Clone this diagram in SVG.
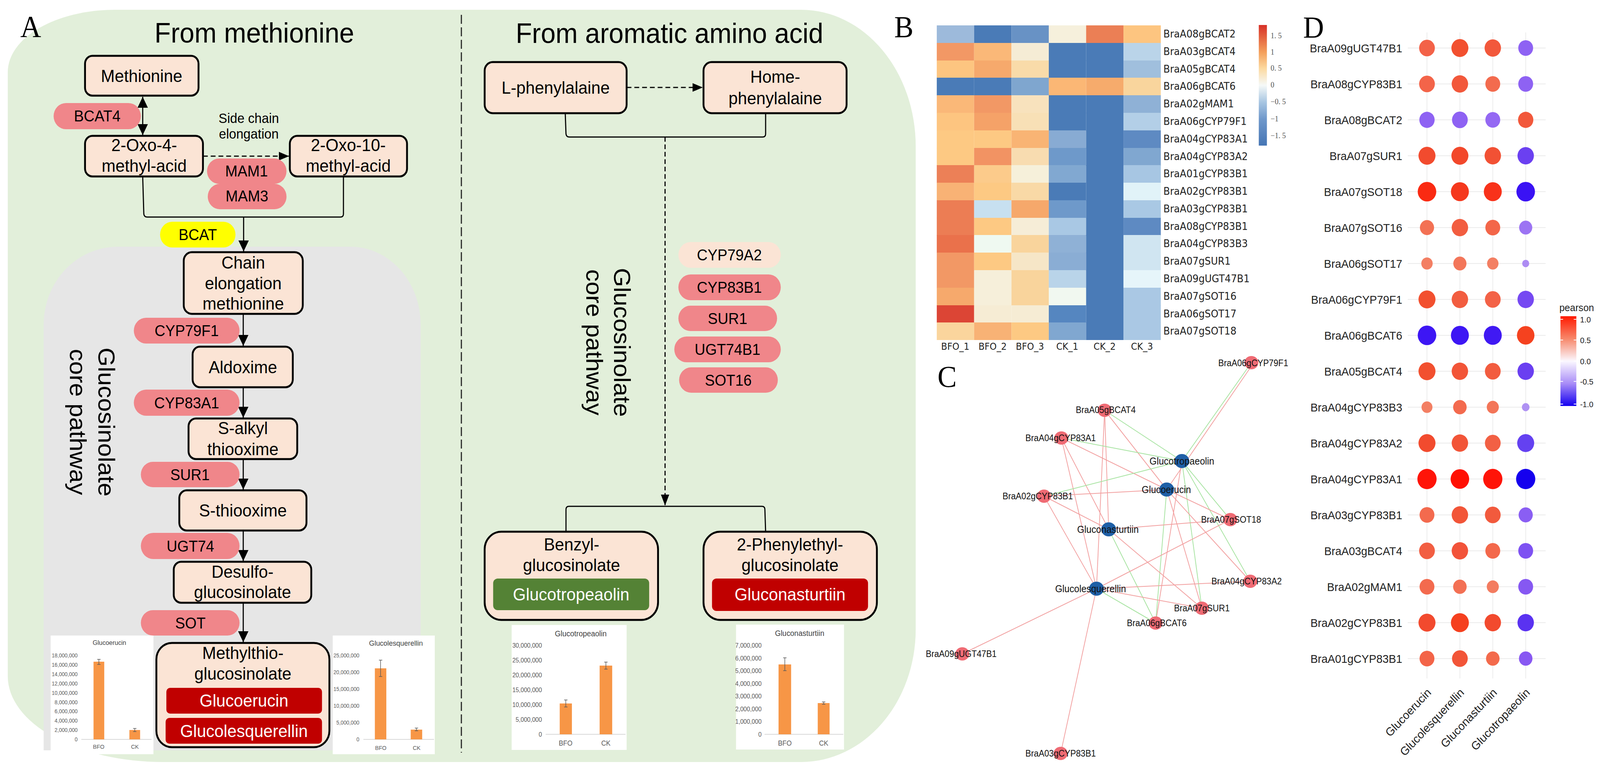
<svg xmlns="http://www.w3.org/2000/svg" width="4328" height="1975" viewBox="0 0 4328 1975" preserveAspectRatio="none" style="width:100vw;height:100vh;display:block">
<defs>
<style>
text{font-family:"Liberation Sans",Arial,sans-serif;fill:#000}
.serif{font-family:"Liberation Serif","Times New Roman",serif;font-size:78px;text-anchor:middle}
.box{fill:#FBE4D5;stroke:#000;stroke-width:5}
.pill{fill:#F0868A}
.t45{font-size:45px;text-anchor:middle}
.t40{font-size:40px;text-anchor:middle}
.w45{font-size:45px;text-anchor:middle;fill:#fff}
.ttl{font-size:72px;text-anchor:middle}
.rot{font-size:63px;text-anchor:middle}
.ln{fill:none;stroke:#000;stroke-width:3}
.dash{fill:none;stroke:#000;stroke-width:3;stroke-dasharray:13 8}
.bar{fill:#F79646}
.ax{stroke:#D9D9D9;stroke-width:2}
.eb{stroke:#595959;stroke-width:1.5;fill:none}
.yl{font-size:14px;text-anchor:end;fill:#595959}
.yl2{font-size:16px;text-anchor:end;fill:#595959}
.xl{font-size:15px;text-anchor:middle;fill:#595959}
.xl2{font-size:18px;text-anchor:middle;fill:#595959}
.ct{font-size:17px;text-anchor:middle;fill:#404040}
.ct2{font-size:20px;text-anchor:middle;fill:#404040}
.hl{font-family:"DejaVu Sans",sans-serif;font-size:26px;fill:#222}
.lg{font-family:"Liberation Serif",serif;font-size:20px;fill:#555}
.er{stroke:#F2A0A0;stroke-width:2}
.eg{stroke:#A6E3A0;stroke-width:2}
.nr{fill:#EF6B74}
.nb{fill:#1F5FA6}
.nl{font-size:23px;text-anchor:middle;fill:#111}
.nlb{font-size:25px;text-anchor:middle;fill:#111}
.dl{font-size:30px;text-anchor:end;fill:#222}
.grid{stroke:#EBEBEB;stroke-width:2}
.pl{font-size:21px;fill:#222}
</style>
<marker id="ah" viewBox="0 0 10 10" refX="10" refY="5" markerWidth="28" markerHeight="28" markerUnits="userSpaceOnUse" orient="auto-start-reverse"><path d="M0,0 L10,5 L0,10 z" fill="#000"/></marker>
<marker id="ahs" viewBox="0 0 10 8" refX="10" refY="4" markerWidth="28" markerHeight="24" markerUnits="userSpaceOnUse" orient="auto"><path d="M0,0 L10,4 L0,8 z" fill="#000"/></marker>
<linearGradient id="hmg" x1="0" y1="0" x2="0" y2="1">
<stop offset="0" stop-color="#D73027"/><stop offset="0.227" stop-color="#F4A05C"/><stop offset="0.36" stop-color="#FCD9A0"/><stop offset="0.5" stop-color="#F5F9F8"/><stop offset="0.64" stop-color="#A8C6E2"/><stop offset="0.78" stop-color="#6F98CB"/><stop offset="1" stop-color="#4575B4"/>
</linearGradient>
<linearGradient id="pg" x1="0" y1="0" x2="0" y2="1">
<stop offset="0" stop-color="#FF1A00"/><stop offset="0.25" stop-color="#F7876A"/><stop offset="0.5" stop-color="#FBF8FF"/><stop offset="0.75" stop-color="#A88CF7"/><stop offset="1" stop-color="#1400F0"/>
</linearGradient>
</defs>
<rect width="4328" height="1975" fill="#fff"/>

<!-- Panel A background -->
<path d="M21,185 A290,160 0 0 1 311,25 L2167,25 A310,350 0 0 1 2477,375 L2477,1612 A310,340 0 0 1 2167,1952 L441,1952 A420,220 0 0 1 21,1732 Z" fill="#E2EFDA"/>
<path d="M118,832 A200,200 0 0 1 318,632 L948,632 A190,200 0 0 1 1138,832 L1138,1922 L118,1922 Z" fill="#E6E6E6"/>
<line x1="1248" y1="38" x2="1248" y2="1928" stroke="#222" stroke-width="3" stroke-dasharray="23 9"/>

<text class="serif" x="83" y="94">A</text>
<text class="ttl" x="688" y="109">From methionine</text>
<text class="ttl" x="1811" y="110">From aromatic amino acid</text>

<text class="rot" transform="translate(266,1081) rotate(90)">Glucosinolate</text>
<text class="rot" transform="translate(189,1081) rotate(90)">core pathway</text>
<text class="rot" transform="translate(1661,877) rotate(90)">Glucosinolate</text>
<text class="rot" transform="translate(1586,877) rotate(90)">core pathway</text>

<text x="673" y="315" style="font-size:35px;text-anchor:middle">Side chain</text>
<text x="673" y="355" style="font-size:35px;text-anchor:middle">elongation</text>

<!-- connectors -->
<g id="connectors">
<line class="ln" x1="386" y1="248" x2="386" y2="346" marker-start="url(#ah)" marker-end="url(#ah)"/>
<line class="dash" x1="549" y1="400" x2="782" y2="400" marker-end="url(#ahs)"/>
<path class="ln" d="M386,452 L389,548 Q390,556 398,556 L921,556 Q929,556 929,548 L929,452"/>
<line class="ln" x1="659" y1="556" x2="659" y2="644" marker-end="url(#ah)"/>
<line class="ln" x1="658" y1="804" x2="658" y2="886" marker-end="url(#ah)"/>
<line class="ln" x1="658" y1="992" x2="658" y2="1070" marker-end="url(#ah)"/>
<line class="ln" x1="658" y1="1176" x2="658" y2="1254" marker-end="url(#ah)"/>
<line class="ln" x1="658" y1="1359" x2="658" y2="1437" marker-end="url(#ah)"/>
<line class="ln" x1="658" y1="1544" x2="658" y2="1645" marker-end="url(#ah)"/>
<line class="dash" x1="1695" y1="224" x2="1901" y2="224" marker-end="url(#ahs)"/>
<path class="ln" d="M1529,290 L1531,343 Q1532,351 1540,351 L2063,351 Q2071,351 2071,343 L2071,290"/>
<line x1="1799" y1="351" x2="1799" y2="1295" stroke="#000" stroke-width="3" stroke-dasharray="12 7" marker-end="url(#ahs)"/>
<path class="ln" d="M1531,1362 L1531,1305 Q1531,1297 1539,1297 L2061,1297 Q2069,1297 2069,1305 L2071,1362"/>
</g>

<!-- Left pathway nodes -->
<g id="n-methionine"><rect class="box" x="230" y="143" width="307" height="102" rx="20"/><text class="t45" x="383" y="210">Methionine</text></g>
<g id="n-oxo4"><rect class="box" x="230" y="348" width="319" height="104" rx="20"/><text class="t45" x="390" y="387">2-Oxo-4-</text><text class="t45" x="390" y="440">methyl-acid</text></g>
<g id="n-oxo10"><rect class="box" x="784" y="348" width="317" height="104" rx="20"/><text class="t45" x="942" y="387">2-Oxo-10-</text><text class="t45" x="942" y="440">methyl-acid</text></g>
<g id="e-bcat4"><rect class="pill" x="145" y="264" width="236" height="67" rx="33.5"/><text class="t40" x="263" y="311">BCAT4</text></g>
<g id="e-mam1"><rect class="pill" x="560" y="406" width="215" height="65" rx="32.5"/><text class="t40" x="667" y="452">MAM1</text></g>
<g id="e-mam3"><rect class="pill" x="562" y="471" width="213" height="65" rx="32.5"/><text class="t40" x="668" y="516">MAM3</text></g>
<g id="e-bcat"><rect x="433" y="568" width="204" height="66" rx="33" fill="#FFFF00"/><text class="t40" x="535" y="615">BCAT</text></g>
<g id="n-chain"><rect class="box" x="497" y="646" width="322" height="158" rx="22"/><text class="t45" x="658" y="688">Chain</text><text class="t45" x="658" y="741">elongation</text><text class="t45" x="658" y="793">methionine</text></g>
<g id="e-cyp79f1"><rect class="pill" x="362" y="814" width="286" height="66" rx="33"/><text class="t40" x="505" y="861">CYP79F1</text></g>
<g id="n-aldoxime"><rect class="box" x="521" y="888" width="271" height="104" rx="20"/><text class="t45" x="657" y="956">Aldoxime</text></g>
<g id="e-cyp83a1"><rect class="pill" x="362" y="998" width="286" height="67" rx="33.5"/><text class="t40" x="505" y="1046">CYP83A1</text></g>
<g id="n-salkyl"><rect class="box" x="510" y="1072" width="294" height="104" rx="20"/><text class="t45" x="657" y="1112">S-alkyl</text><text class="t45" x="657" y="1166">thiooxime</text></g>
<g id="e-sur1"><rect class="pill" x="381" y="1183" width="267" height="65" rx="32.5"/><text class="t40" x="514" y="1230">SUR1</text></g>
<g id="n-sthio"><rect class="box" x="485" y="1256" width="344" height="103" rx="20"/><text class="t45" x="657" y="1323">S-thiooxime</text></g>
<g id="e-ugt74"><rect class="pill" x="381" y="1365" width="267" height="67" rx="33.5"/><text class="t40" x="515" y="1413">UGT74</text></g>
<g id="n-desulfo"><rect class="box" x="470" y="1439" width="372" height="105" rx="20"/><text class="t45" x="656" y="1480">Desulfo-</text><text class="t45" x="656" y="1532">glucosinolate</text></g>
<g id="e-sot"><rect class="pill" x="381" y="1563" width="267" height="65" rx="32.5"/><text class="t40" x="515" y="1610">SOT</text></g>
<g id="n-methylthio"><rect class="box" x="423" y="1647" width="468" height="267" rx="42"/><text class="t45" x="657" y="1688">Methylthio-</text><text class="t45" x="657" y="1741">glucosinolate</text>
<rect x="450" y="1762" width="421" height="66" rx="10" fill="#C00000"/><text class="w45" x="660" y="1810">Glucoerucin</text>
<rect x="448" y="1839" width="423" height="66" rx="10" fill="#C00000"/><text class="w45" x="660" y="1888">Glucolesquerellin</text></g>

<!-- Right pathway nodes -->
<g id="n-lphe"><rect class="box" x="1311" y="159" width="384" height="131" rx="22"/><text class="t45" x="1503" y="240">L-phenylalaine</text></g>
<g id="n-homephe"><rect class="box" x="1903" y="159" width="387" height="131" rx="22"/><text class="t45" x="2097" y="212">Home-</text><text class="t45" x="2097" y="267">phenylalaine</text></g>
<g id="e-cyp79a2"><rect x="1835" y="620" width="277" height="66" rx="33" fill="#FBE4D5"/><text class="t40" x="1973" y="667">CYP79A2</text></g>
<g id="e-cyp83b1"><rect class="pill" x="1835" y="703" width="277" height="66" rx="33"/><text class="t40" x="1973" y="750">CYP83B1</text></g>
<g id="e-sur1r"><rect class="pill" x="1835" y="783" width="267" height="65" rx="32.5"/><text class="t40" x="1968" y="830">SUR1</text></g>
<g id="e-ugt74b1"><rect class="pill" x="1824" y="862" width="288" height="66" rx="33"/><text class="t40" x="1968" y="909">UGT74B1</text></g>
<g id="e-sot16"><rect class="pill" x="1837" y="941" width="267" height="65" rx="32.5"/><text class="t40" x="1970" y="988">SOT16</text></g>
<g id="n-benzyl"><rect class="box" x="1311" y="1362" width="469" height="226" rx="45"/><text class="t45" x="1546" y="1410">Benzyl-</text><text class="t45" x="1546" y="1463">glucosinolate</text>
<rect x="1334" y="1482" width="422" height="81" rx="12" fill="#548235"/><text class="w45" x="1545" y="1538">Glucotropeaolin</text></g>
<g id="n-phenylethyl"><rect class="box" x="1903" y="1362" width="469" height="226" rx="45"/><text class="t45" x="2137" y="1410">2-Phenylethyl-</text><text class="t45" x="2137" y="1463">glucosinolate</text>
<rect x="1926" y="1482" width="422" height="83" rx="12" fill="#C00000"/><text class="w45" x="2137" y="1538">Gluconasturtiin</text></g>

<!-- bar charts -->
<g id="chart-glucoerucin">
<rect x="137" y="1628" width="278" height="304" fill="#fff"/>
<text class="ct" x="296" y="1652">Glucoerucin</text>
<text class="yl" x="210" y="1684">18,000,000</text><text class="yl" x="210" y="1708">16,000,000</text><text class="yl" x="210" y="1732">14,000,000</text><text class="yl" x="210" y="1756">12,000,000</text><text class="yl" x="210" y="1780">10,000,000</text><text class="yl" x="210" y="1804">8,000,000</text><text class="yl" x="210" y="1827">6,000,000</text><text class="yl" x="210" y="1851">4,000,000</text><text class="yl" x="210" y="1875">2,000,000</text><text class="yl" x="210" y="1899">0</text>
<line class="ax" x1="220" y1="1894" x2="410" y2="1894"/>
<rect class="bar" x="253" y="1695" width="29" height="199"/><rect class="bar" x="350" y="1870" width="29" height="24"/>
<path class="eb" d="M267.5,1689V1702M263,1689H272M263,1702H272M364.5,1866V1874M360,1866H369M360,1874H369"/>
<text class="xl" x="267" y="1918">BFO</text><text class="xl" x="365" y="1918">CK</text>
</g>
<g id="chart-glucolesquerellin">
<rect x="900" y="1628" width="276" height="304" fill="#fff"/>
<text class="ct" x="1071" y="1654" style="font-size:19px">Glucolesquerellin</text>
<text class="yl" x="972" y="1684">25,000,000</text><text class="yl" x="972" y="1727">20,000,000</text><text class="yl" x="972" y="1770">15,000,000</text><text class="yl" x="972" y="1813">10,000,000</text><text class="yl" x="972" y="1856">5,000,000</text><text class="yl" x="972" y="1899">0</text>
<line class="ax" x1="983" y1="1894" x2="1174" y2="1894"/>
<rect class="bar" x="1014" y="1712" width="31" height="182"/><rect class="bar" x="1111" y="1869" width="31" height="25"/>
<path class="eb" d="M1029.5,1691V1733M1025,1691H1034M1025,1733H1034M1126.5,1865V1872M1122,1865H1131M1122,1872H1131"/>
<text class="xl" x="1030" y="1921">BFO</text><text class="xl" x="1127" y="1921">CK</text>
</g>
<g id="chart-glucotropeaolin">
<rect x="1384" y="1601" width="311" height="320" fill="#fff"/>
<text class="ct2" x="1571" y="1630">Glucotropeaolin</text>
<text class="yl2" x="1466" y="1659">30,000,000</text><text class="yl2" x="1466" y="1697">25,000,000</text><text class="yl2" x="1466" y="1735">20,000,000</text><text class="yl2" x="1466" y="1773">15,000,000</text><text class="yl2" x="1466" y="1811">10,000,000</text><text class="yl2" x="1466" y="1849">5,000,000</text><text class="yl2" x="1466" y="1887">0</text>
<line class="ax" x1="1476" y1="1881" x2="1692" y2="1881"/>
<rect class="bar" x="1514" y="1802" width="33" height="79"/><rect class="bar" x="1622" y="1705" width="34" height="176"/>
<path class="eb" d="M1530.5,1793V1811M1526,1793H1535M1526,1811H1535M1639,1696V1714M1634.5,1696H1643.5M1634.5,1714H1643.5"/>
<text class="xl2" x="1530" y="1910">BFO</text><text class="xl2" x="1639" y="1910">CK</text>
</g>
<g id="chart-gluconasturtiin">
<rect x="1991" y="1600" width="292" height="320" fill="#fff"/>
<text class="ct2" x="2163" y="1629">Gluconasturtiin</text>
<text class="yl2" x="2060" y="1659">7,000,000</text><text class="yl2" x="2060" y="1692">6,000,000</text><text class="yl2" x="2060" y="1724">5,000,000</text><text class="yl2" x="2060" y="1757">4,000,000</text><text class="yl2" x="2060" y="1789">3,000,000</text><text class="yl2" x="2060" y="1822">2,000,000</text><text class="yl2" x="2060" y="1854">1,000,000</text><text class="yl2" x="2060" y="1887">0</text>
<line class="ax" x1="2068" y1="1881" x2="2281" y2="1881"/>
<rect class="bar" x="2106" y="1702" width="34" height="179"/><rect class="bar" x="2212" y="1801" width="32" height="80"/>
<path class="eb" d="M2123,1685V1718M2118.5,1685H2127.5M2118.5,1718H2127.5M2228,1798V1804M2223.5,1798H2232.5M2223.5,1804H2232.5"/>
<text class="xl2" x="2123" y="1910">BFO</text><text class="xl2" x="2228" y="1910">CK</text>
</g>

<!-- Panel B heatmap -->
<text class="serif" x="2445" y="95">B</text>
<g id="heatmap">
<rect x="2534" y="65" width="101" height="46" fill="#9DBADB"/><rect x="2635" y="65" width="101" height="46" fill="#4A7BB7"/><rect x="2736" y="65" width="101" height="46" fill="#6892C5"/><rect x="2837" y="65" width="101" height="46" fill="#F6F0DC"/><rect x="2938" y="65" width="101" height="46" fill="#EB7F55"/><rect x="3039" y="65" width="101" height="46" fill="#FDC580"/>
<rect x="2534" y="110" width="101" height="46" fill="#F29865"/><rect x="2635" y="110" width="101" height="46" fill="#FAB878"/><rect x="2736" y="110" width="101" height="46" fill="#F5ECD5"/><rect x="2837" y="110" width="101" height="46" fill="#4A7BB7"/><rect x="2938" y="110" width="101" height="46" fill="#4A7BB7"/><rect x="3039" y="110" width="101" height="46" fill="#BAD4E9"/>
<rect x="2534" y="155" width="101" height="46" fill="#FDC580"/><rect x="2635" y="155" width="101" height="46" fill="#F6A96C"/><rect x="2736" y="155" width="101" height="46" fill="#F9DBA9"/><rect x="2837" y="155" width="101" height="46" fill="#4A7BB7"/><rect x="2938" y="155" width="101" height="46" fill="#4A7BB7"/><rect x="3039" y="155" width="101" height="46" fill="#A0BFDD"/>
<rect x="2534" y="199" width="101" height="46" fill="#4A7BB7"/><rect x="2635" y="199" width="101" height="46" fill="#4A7BB7"/><rect x="2736" y="199" width="101" height="46" fill="#7FA6CF"/><rect x="2837" y="199" width="101" height="46" fill="#FBB775"/><rect x="2938" y="199" width="101" height="46" fill="#F6AB6C"/><rect x="3039" y="199" width="101" height="46" fill="#F9D59D"/>
<rect x="2534" y="244" width="101" height="46" fill="#FAB878"/><rect x="2635" y="244" width="101" height="46" fill="#F29865"/><rect x="2736" y="244" width="101" height="46" fill="#F8E2BD"/><rect x="2837" y="244" width="101" height="46" fill="#4A7BB7"/><rect x="2938" y="244" width="101" height="46" fill="#4A7BB7"/><rect x="3039" y="244" width="101" height="46" fill="#8FB1D6"/>
<rect x="2534" y="289" width="101" height="46" fill="#FDC580"/><rect x="2635" y="289" width="101" height="46" fill="#F5A268"/><rect x="2736" y="289" width="101" height="46" fill="#F8E0B6"/><rect x="2837" y="289" width="101" height="46" fill="#4A7BB7"/><rect x="2938" y="289" width="101" height="46" fill="#4A7BB7"/><rect x="3039" y="289" width="101" height="46" fill="#B3CFE7"/>
<rect x="2534" y="334" width="101" height="46" fill="#FDC983"/><rect x="2635" y="334" width="101" height="46" fill="#FDC983"/><rect x="2736" y="334" width="101" height="46" fill="#F9B474"/><rect x="2837" y="334" width="101" height="46" fill="#88ABD3"/><rect x="2938" y="334" width="101" height="46" fill="#4A7BB7"/><rect x="3039" y="334" width="101" height="46" fill="#5E8AC2"/>
<rect x="2534" y="379" width="101" height="46" fill="#FDC983"/><rect x="2635" y="379" width="101" height="46" fill="#F29363"/><rect x="2736" y="379" width="101" height="46" fill="#F8DCB0"/><rect x="2837" y="379" width="101" height="46" fill="#6E99CA"/><rect x="2938" y="379" width="101" height="46" fill="#4A7BB7"/><rect x="3039" y="379" width="101" height="46" fill="#80A7D0"/>
<rect x="2534" y="423" width="101" height="46" fill="#EC8057"/><rect x="2635" y="423" width="101" height="46" fill="#FCCB8B"/><rect x="2736" y="423" width="101" height="46" fill="#F6F0DA"/><rect x="2837" y="423" width="101" height="46" fill="#81A8D1"/><rect x="2938" y="423" width="101" height="46" fill="#4A7BB7"/><rect x="3039" y="423" width="101" height="46" fill="#A7C6E3"/>
<rect x="2534" y="468" width="101" height="46" fill="#F8B275"/><rect x="2635" y="468" width="101" height="46" fill="#FDC983"/><rect x="2736" y="468" width="101" height="46" fill="#F9D9A6"/><rect x="2837" y="468" width="101" height="46" fill="#4A7BB7"/><rect x="2938" y="468" width="101" height="46" fill="#4A7BB7"/><rect x="3039" y="468" width="101" height="46" fill="#E1F3F8"/>
<rect x="2534" y="513" width="101" height="46" fill="#EC7D54"/><rect x="2635" y="513" width="101" height="46" fill="#C7E0F0"/><rect x="2736" y="513" width="101" height="46" fill="#F6A86B"/><rect x="2837" y="513" width="101" height="46" fill="#6E99CA"/><rect x="2938" y="513" width="101" height="46" fill="#4A7BB7"/><rect x="3039" y="513" width="101" height="46" fill="#A9C8E4"/>
<rect x="2534" y="558" width="101" height="46" fill="#EC7D54"/><rect x="2635" y="558" width="101" height="46" fill="#FDC983"/><rect x="2736" y="558" width="101" height="46" fill="#F6EDD7"/><rect x="2837" y="558" width="101" height="46" fill="#A9C8E4"/><rect x="2938" y="558" width="101" height="46" fill="#4A7BB7"/><rect x="3039" y="558" width="101" height="46" fill="#5E8AC2"/>
<rect x="2534" y="602" width="101" height="46" fill="#EA714B"/><rect x="2635" y="602" width="101" height="46" fill="#EFF9F1"/><rect x="2736" y="602" width="101" height="46" fill="#F9D49C"/><rect x="2837" y="602" width="101" height="46" fill="#8FB1D6"/><rect x="2938" y="602" width="101" height="46" fill="#4A7BB7"/><rect x="3039" y="602" width="101" height="46" fill="#D0E5F1"/>
<rect x="2534" y="647" width="101" height="46" fill="#F29865"/><rect x="2635" y="647" width="101" height="46" fill="#FDC983"/><rect x="2736" y="647" width="101" height="46" fill="#F6E6C7"/><rect x="2837" y="647" width="101" height="46" fill="#8AADD4"/><rect x="2938" y="647" width="101" height="46" fill="#4A7BB7"/><rect x="3039" y="647" width="101" height="46" fill="#D0E5F1"/>
<rect x="2534" y="692" width="101" height="46" fill="#F29865"/><rect x="2635" y="692" width="101" height="46" fill="#F6EFDA"/><rect x="2736" y="692" width="101" height="46" fill="#F9D49C"/><rect x="2837" y="692" width="101" height="46" fill="#B9D4E9"/><rect x="2938" y="692" width="101" height="46" fill="#4A7BB7"/><rect x="3039" y="692" width="101" height="46" fill="#E6F5FA"/>
<rect x="2534" y="737" width="101" height="46" fill="#F6A96C"/><rect x="2635" y="737" width="101" height="46" fill="#F6EFDA"/><rect x="2736" y="737" width="101" height="46" fill="#F9D49C"/><rect x="2837" y="737" width="101" height="46" fill="#F1F8F0"/><rect x="2938" y="737" width="101" height="46" fill="#4A7BB7"/><rect x="3039" y="737" width="101" height="46" fill="#AAC8E4"/>
<rect x="2534" y="782" width="101" height="45" fill="#DC4535"/><rect x="2635" y="782" width="101" height="45" fill="#F6ECD4"/><rect x="2736" y="782" width="101" height="45" fill="#F6ECD4"/><rect x="2837" y="782" width="101" height="45" fill="#5586C0"/><rect x="2938" y="782" width="101" height="45" fill="#4A7BB7"/><rect x="3039" y="782" width="101" height="45" fill="#AAC8E4"/>
<rect x="2534" y="826" width="101" height="45" fill="#FAD59D"/><rect x="2635" y="826" width="101" height="45" fill="#F8B275"/><rect x="2736" y="826" width="101" height="45" fill="#FDC983"/><rect x="2837" y="826" width="101" height="45" fill="#80A7D0"/><rect x="2938" y="826" width="101" height="45" fill="#4A7BB7"/><rect x="3039" y="826" width="101" height="45" fill="#AAC8E4"/>
</g>
<g id="heatmap-labels">
<text class="hl" x="3147" y="96">BraA08gBCAT2</text><text class="hl" x="3147" y="141">BraA03gBCAT4</text><text class="hl" x="3147" y="186">BraA05gBCAT4</text><text class="hl" x="3147" y="230">BraA06gBCAT6</text><text class="hl" x="3147" y="275">BraA02gMAM1</text><text class="hl" x="3147" y="320">BraA06gCYP79F1</text><text class="hl" x="3147" y="365">BraA04gCYP83A1</text><text class="hl" x="3147" y="410">BraA04gCYP83A2</text><text class="hl" x="3147" y="454">BraA01gCYP83B1</text><text class="hl" x="3147" y="499">BraA02gCYP83B1</text><text class="hl" x="3147" y="544">BraA03gCYP83B1</text><text class="hl" x="3147" y="589">BraA08gCYP83B1</text><text class="hl" x="3147" y="633">BraA04gCYP83B3</text><text class="hl" x="3147" y="678">BraA07gSUR1</text><text class="hl" x="3147" y="723">BraA09gUGT47B1</text><text class="hl" x="3147" y="768">BraA07gSOT16</text><text class="hl" x="3147" y="813">BraA06gSOT17</text><text class="hl" x="3147" y="857">BraA07gSOT18</text>
<text class="hl" x="2584" y="896" style="font-size:24px;text-anchor:middle">BFO_1</text><text class="hl" x="2685" y="896" style="font-size:24px;text-anchor:middle">BFO_2</text><text class="hl" x="2786" y="896" style="font-size:24px;text-anchor:middle">BFO_3</text><text class="hl" x="2887" y="896" style="font-size:24px;text-anchor:middle">CK_1</text><text class="hl" x="2988" y="896" style="font-size:24px;text-anchor:middle">CK_2</text><text class="hl" x="3089" y="896" style="font-size:24px;text-anchor:middle">CK_3</text>
</g>
<g id="heatmap-legend">
<rect x="3405" y="64" width="22" height="309" fill="url(#hmg)"/>
<text class="lg" x="3437" y="98">1. 5</text><text class="lg" x="3437" y="140">1</text><text class="lg" x="3437" y="181">0. 5</text><text class="lg" x="3437" y="224">0</text><text class="lg" x="3437" y="267">−0. 5</text><text class="lg" x="3437" y="311">−1</text><text class="lg" x="3437" y="354">−1. 5</text>
</g>

<!-- Panel C network -->
<text class="serif" x="2562" y="991">C</text>
<g id="network-edges">
<line class="eg" x1="3385" y1="929" x2="3197" y2="1181"/><line class="er" x1="3390" y1="931" x2="3156" y2="1254"/>
<line class="eg" x1="2988" y1="1051" x2="3197" y2="1181"/><line class="er" x1="2988" y1="1051" x2="3156" y2="1254"/><line class="er" x1="2988" y1="1051" x2="2999" y2="1356"/><line class="er" x1="2988" y1="1051" x2="2966" y2="1508"/>
<line class="eg" x1="2871" y1="1122" x2="3197" y2="1181"/><line class="er" x1="2871" y1="1122" x2="3156" y2="1254"/><line class="er" x1="2871" y1="1122" x2="2999" y2="1356"/><line class="er" x1="2871" y1="1122" x2="2966" y2="1508"/>
<line class="eg" x1="2824" y1="1271" x2="3197" y2="1181"/><line class="er" x1="2824" y1="1271" x2="3156" y2="1254"/><line class="er" x1="2824" y1="1271" x2="2999" y2="1356"/><line class="er" x1="2824" y1="1271" x2="2966" y2="1508"/>
<line class="eg" x1="3197" y1="1181" x2="3328" y2="1331"/><line class="eg" x1="3197" y1="1181" x2="3382" y2="1489"/><line class="eg" x1="3197" y1="1181" x2="3251" y2="1558"/><line class="er" x1="3197" y1="1181" x2="3126" y2="1596"/>
<line class="er" x1="3156" y1="1254" x2="3328" y2="1331"/><line class="er" x1="3156" y1="1254" x2="3382" y2="1489"/><line class="er" x1="3156" y1="1254" x2="3251" y2="1558"/><line class="eg" x1="3156" y1="1254" x2="3126" y2="1596"/>
<line class="er" x1="2999" y1="1356" x2="3328" y2="1331"/><line class="er" x1="2999" y1="1356" x2="3251" y2="1558"/><line class="eg" x1="2999" y1="1356" x2="3126" y2="1596"/>
<line class="er" x1="2966" y1="1508" x2="3328" y2="1331"/><line class="er" x1="2966" y1="1508" x2="3382" y2="1489"/><line class="er" x1="2966" y1="1508" x2="3251" y2="1558"/><line class="eg" x1="2966" y1="1508" x2="3126" y2="1596"/><line class="er" x1="2966" y1="1508" x2="2603" y2="1675"/><line class="er" x1="2966" y1="1508" x2="2869" y2="1930"/>
</g>
<g id="cn-cyp79f1"><ellipse class="nr" cx="3385" cy="929" rx="19" ry="17"/><text class="nl" x="3390" y="938">BraA06gCYP79F1</text></g>
<g id="cn-bcat4"><ellipse class="nr" cx="2988" cy="1051" rx="19" ry="17"/><text class="nl" x="2991" y="1058">BraA05gBCAT4</text></g>
<g id="cn-cyp83a1"><ellipse class="nr" cx="2871" cy="1122" rx="19" ry="17"/><text class="nl" x="2869" y="1130">BraA04gCYP83A1</text></g>
<g id="cn-cyp83b1a02"><ellipse class="nr" cx="2824" cy="1271" rx="19" ry="17"/><text class="nl" x="2807" y="1279">BraA02gCYP83B1</text></g>
<g id="cn-sot18"><ellipse class="nr" cx="3328" cy="1331" rx="19" ry="17"/><text class="nl" x="3330" y="1339">BraA07gSOT18</text></g>
<g id="cn-cyp83a2"><ellipse class="nr" cx="3382" cy="1489" rx="19" ry="17"/><text class="nl" x="3372" y="1497">BraA04gCYP83A2</text></g>
<g id="cn-sur1"><ellipse class="nr" cx="3251" cy="1558" rx="19" ry="17"/><text class="nl" x="3251" y="1566">BraA07gSUR1</text></g>
<g id="cn-bcat6"><ellipse class="nr" cx="3126" cy="1596" rx="19" ry="17"/><text class="nl" x="3129" y="1604">BraA06gBCAT6</text></g>
<g id="cn-ugt"><ellipse class="nr" cx="2603" cy="1675" rx="19" ry="17"/><text class="nl" x="2600" y="1683">BraA09gUGT47B1</text></g>
<g id="cn-cyp83b1a03"><ellipse class="nr" cx="2869" cy="1930" rx="19" ry="17"/><text class="nl" x="2869" y="1938">BraA03gCYP83B1</text></g>
<g id="cn-trop"><ellipse class="nb" cx="3197" cy="1181" rx="20" ry="18"/><text class="nlb" x="3197" y="1190">Glucotropaeolin</text></g>
<g id="cn-eru"><ellipse class="nb" cx="3156" cy="1254" rx="20" ry="18"/><text class="nlb" x="3155" y="1263">Glucoerucin</text></g>
<g id="cn-nas"><ellipse class="nb" cx="2999" cy="1356" rx="20" ry="18"/><text class="nlb" x="2997" y="1365">Gluconasturtiin</text></g>
<g id="cn-les"><ellipse class="nb" cx="2966" cy="1508" rx="20" ry="18"/><text class="nlb" x="2950" y="1517">Glucolesquerellin</text></g>

<!-- Panel D dot plot -->
<text class="serif" x="3553" y="96">D</text>
<g id="dot-grid">
<line class="grid" x1="3860" y1="83" x2="3860" y2="1738"/><line class="grid" x1="3949" y1="83" x2="3949" y2="1738"/><line class="grid" x1="4038" y1="83" x2="4038" y2="1738"/><line class="grid" x1="4127" y1="83" x2="4127" y2="1738"/>
<line class="grid" x1="3808" y1="123" x2="4181" y2="123"/><line class="grid" x1="3808" y1="215" x2="4181" y2="215"/><line class="grid" x1="3808" y1="307" x2="4181" y2="307"/><line class="grid" x1="3808" y1="399" x2="4181" y2="399"/><line class="grid" x1="3808" y1="491" x2="4181" y2="491"/><line class="grid" x1="3808" y1="583" x2="4181" y2="583"/><line class="grid" x1="3808" y1="675" x2="4181" y2="675"/><line class="grid" x1="3808" y1="767" x2="4181" y2="767"/><line class="grid" x1="3808" y1="859" x2="4181" y2="859"/><line class="grid" x1="3808" y1="951" x2="4181" y2="951"/><line class="grid" x1="3808" y1="1043" x2="4181" y2="1043"/><line class="grid" x1="3808" y1="1135" x2="4181" y2="1135"/><line class="grid" x1="3808" y1="1227" x2="4181" y2="1227"/><line class="grid" x1="3808" y1="1319" x2="4181" y2="1319"/><line class="grid" x1="3808" y1="1411" x2="4181" y2="1411"/><line class="grid" x1="3808" y1="1503" x2="4181" y2="1503"/><line class="grid" x1="3808" y1="1595" x2="4181" y2="1595"/><line class="grid" x1="3808" y1="1687" x2="4181" y2="1687"/>
</g>
<g id="dot-labels">
<text class="dl" x="3793" y="134">BraA09gUGT47B1</text><text class="dl" x="3793" y="226">BraA08gCYP83B1</text><text class="dl" x="3793" y="318">BraA08gBCAT2</text><text class="dl" x="3793" y="410">BraA07gSUR1</text><text class="dl" x="3793" y="502">BraA07gSOT18</text><text class="dl" x="3793" y="594">BraA07gSOT16</text><text class="dl" x="3793" y="686">BraA06gSOT17</text><text class="dl" x="3793" y="778">BraA06gCYP79F1</text><text class="dl" x="3793" y="870">BraA06gBCAT6</text><text class="dl" x="3793" y="962">BraA05gBCAT4</text><text class="dl" x="3793" y="1054">BraA04gCYP83B3</text><text class="dl" x="3793" y="1146">BraA04gCYP83A2</text><text class="dl" x="3793" y="1238">BraA04gCYP83A1</text><text class="dl" x="3793" y="1330">BraA03gCYP83B1</text><text class="dl" x="3793" y="1422">BraA03gBCAT4</text><text class="dl" x="3793" y="1514">BraA02gMAM1</text><text class="dl" x="3793" y="1606">BraA02gCYP83B1</text><text class="dl" x="3793" y="1698">BraA01gCYP83B1</text>
<text class="dl" transform="translate(3873,1776) rotate(-45)">Glucoerucin</text><text class="dl" transform="translate(3962,1776) rotate(-45)">Glucolesquerellin</text><text class="dl" transform="translate(4051,1776) rotate(-45)">Gluconasturtiin</text><text class="dl" transform="translate(4140,1776) rotate(-45)">Glucotropaeolin</text>
</g>
<g id="dots">
<circle cx="3860" cy="123" r="21.3" fill="#F36248"/><circle cx="3949" cy="123" r="23" fill="#F2502F"/><circle cx="4038" cy="123" r="22.2" fill="#F2583B"/><circle cx="4127" cy="123" r="20.1" fill="#8E62F3"/>
<circle cx="3860" cy="215" r="21.3" fill="#F36449"/><circle cx="3949" cy="215" r="22.2" fill="#F2583B"/><circle cx="4038" cy="215" r="20.1" fill="#F36B4E"/><circle cx="4127" cy="215" r="20.1" fill="#8E62F3"/>
<circle cx="3860" cy="307" r="20.7" fill="#8E62F3"/><circle cx="3949" cy="307" r="21.3" fill="#8E62F3"/><circle cx="4038" cy="307" r="20.1" fill="#9468F3"/><circle cx="4127" cy="307" r="20.7" fill="#F2583B"/>
<circle cx="3860" cy="399" r="23" fill="#F24B2E"/><circle cx="3949" cy="399" r="23" fill="#F2482B"/><circle cx="4038" cy="399" r="22.2" fill="#F25134"/><circle cx="4127" cy="399" r="22.2" fill="#6B40F1"/>
<circle cx="3860" cy="491" r="25.1" fill="#FA2A12"/><circle cx="3949" cy="491" r="24.3" fill="#F5381D"/><circle cx="4038" cy="491" r="24.3" fill="#F8321A"/><circle cx="4127" cy="491" r="25.1" fill="#3A12F4"/>
<circle cx="3860" cy="583" r="19.2" fill="#F37154"/><circle cx="3949" cy="583" r="22.2" fill="#F25D40"/><circle cx="4038" cy="583" r="20.1" fill="#F36649"/><circle cx="4127" cy="583" r="17.8" fill="#9C74F3"/>
<circle cx="3860" cy="675" r="15.4" fill="#F37F63"/><circle cx="3949" cy="675" r="17.8" fill="#F3765A"/><circle cx="4038" cy="675" r="15.4" fill="#F37F63"/><circle cx="4127" cy="675" r="9.5" fill="#AD8CF3"/>
<circle cx="3860" cy="767" r="23" fill="#F2502F"/><circle cx="3949" cy="767" r="22.2" fill="#F25D40"/><circle cx="4038" cy="767" r="21.3" fill="#F36247"/><circle cx="4127" cy="767" r="22.2" fill="#7649F2"/>
<circle cx="3860" cy="859" r="25.1" fill="#3D16F4"/><circle cx="3949" cy="859" r="24.3" fill="#3D16F4"/><circle cx="4038" cy="859" r="24.3" fill="#4019F3"/><circle cx="4127" cy="859" r="23.7" fill="#F5421F"/>
<circle cx="3860" cy="951" r="23" fill="#F2502F"/><circle cx="3949" cy="951" r="22.2" fill="#F25538"/><circle cx="4038" cy="951" r="21.3" fill="#F25C3F"/><circle cx="4127" cy="951" r="22.2" fill="#6A3FF1"/>
<circle cx="3860" cy="1043" r="14.8" fill="#F37F63"/><circle cx="3949" cy="1043" r="18.3" fill="#F36A4E"/><circle cx="4038" cy="1043" r="16.3" fill="#F37558"/><circle cx="4127" cy="1043" r="10.4" fill="#AF92F3"/>
<circle cx="3860" cy="1135" r="23" fill="#F24B2E"/><circle cx="3949" cy="1135" r="22.2" fill="#F25538"/><circle cx="4038" cy="1135" r="21.3" fill="#F26044"/><circle cx="4127" cy="1135" r="23" fill="#6441F1"/>
<circle cx="3860" cy="1227" r="26" fill="#FF1408"/><circle cx="3949" cy="1227" r="25.1" fill="#FF1003"/><circle cx="4038" cy="1227" r="26" fill="#FF1408"/><circle cx="4127" cy="1227" r="26" fill="#1500EE"/>
<circle cx="3860" cy="1319" r="20.1" fill="#F36A4E"/><circle cx="3949" cy="1319" r="22.2" fill="#F25538"/><circle cx="4038" cy="1319" r="21.3" fill="#F25A3D"/><circle cx="4127" cy="1319" r="19.2" fill="#8A5EF3"/>
<circle cx="3860" cy="1411" r="21.3" fill="#F25E42"/><circle cx="3949" cy="1411" r="22.2" fill="#F2533A"/><circle cx="4038" cy="1411" r="20.1" fill="#F3684B"/><circle cx="4127" cy="1411" r="20.1" fill="#7E52F2"/>
<circle cx="3860" cy="1503" r="20.1" fill="#F36A4E"/><circle cx="3949" cy="1503" r="18.3" fill="#F37054"/><circle cx="4038" cy="1503" r="16.3" fill="#F37C60"/><circle cx="4127" cy="1503" r="20.1" fill="#8658F2"/>
<circle cx="3860" cy="1595" r="23" fill="#F24A2E"/><circle cx="3949" cy="1595" r="24.3" fill="#F5401F"/><circle cx="4038" cy="1595" r="22.2" fill="#F24A2E"/><circle cx="4127" cy="1595" r="22.2" fill="#5A32F1"/>
<circle cx="3860" cy="1687" r="20.1" fill="#F36448"/><circle cx="3949" cy="1687" r="21.3" fill="#F25538"/><circle cx="4038" cy="1687" r="18.3" fill="#F36A4C"/><circle cx="4127" cy="1687" r="18.3" fill="#8858F2"/>
</g>
<g id="pearson-legend">
<text x="4218" y="797" style="font-size:26px;fill:#222">pearson</text>
<rect x="4221" y="810" width="43" height="230" fill="url(#pg)"/>
<path d="M4221,818h7M4257,818h7M4221,871h7M4257,871h7M4221,925h7M4257,925h7M4221,977h7M4257,977h7M4221,1035h7M4257,1035h7" stroke="#fff" stroke-width="2"/>
<text class="pl" x="4274" y="826">1.0</text><text class="pl" x="4274" y="879">0.5</text><text class="pl" x="4274" y="933">0.0</text><text class="pl" x="4274" y="985">-0.5</text><text class="pl" x="4274" y="1043">-1.0</text>
</g>
</svg>
